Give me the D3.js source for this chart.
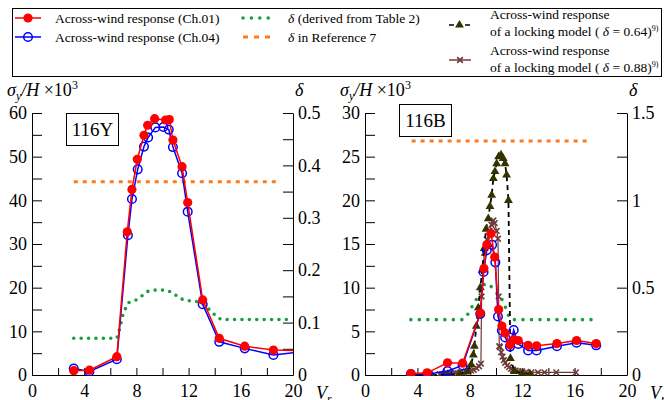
<!DOCTYPE html>
<html>
<head>
<meta charset="utf-8">
<script src="https://cdn.jsdelivr.net/npm/d3@7"></script>
<style>
  body { margin: 0; background: #fff; }
  svg, svg text { font-family: "Liberation Serif", "Times New Roman", Times, "DejaVu Serif", serif; }
</style>
</head>
<body>
<svg id="chart" width="664" height="400"></svg>
<script>
// ---- data: 116Y ----
const vrY01  = [3.2, 4.4, 6.5, 7.3, 7.66, 8.07, 8.58, 8.86, 9.4, 10.24, 10.52, 10.8, 11.5, 11.93, 13.08, 14.35, 16.3, 18.5, 20.6];
const resY01 = [1.0, 1.1, 4.2, 32.8, 42.5, 49.4, 54.9, 57.2, 58.7, 58.4, 58.5, 53.8, 47.7, 39.5, 17.2, 8.4, 6.6, 5.7, 5.6];
const vrY04  = [3.2, 4.4, 6.5, 7.35, 7.66, 8.1, 8.58, 8.9, 9.45, 10.07, 10.48, 10.8, 11.5, 11.93, 13.08, 14.35, 16.3, 18.5, 20.6];
const resY04 = [1.5, 0.8, 3.6, 32.0, 40.3, 47.1, 52.3, 54.4, 56.7, 56.8, 56.2, 52.2, 46.2, 37.4, 16.2, 7.6, 6.1, 4.6, 5.3];
const vrYTable  = [3.2, 6.5, 6.69, 6.8, 6.95, 7.13, 7.38, 7.9, 8.33, 8.79, 9.3, 10.32, 10.83, 11.34, 11.85, 12.49, 13.0, 13.39, 13.77, 14.15, 14.5, 19.8];
const deltaYTable = [0.070, 0.070, 0.086, 0.097, 0.113, 0.125, 0.138, 0.142, 0.149, 0.159, 0.162, 0.162, 0.156, 0.146, 0.142, 0.141, 0.138, 0.129, 0.121, 0.111, 0.106, 0.106];
const vrYRef7 = [3.2, 18.9];
const deltaYRef7 = [0.369, 0.369];

// ---- data: 116B ----
const vrB01  = [3.5, 4.75, 6.3, 7.45, 8.8, 9.08, 9.3, 9.62, 9.9, 10.2, 10.45, 10.7, 11.07, 11.35, 11.7, 12.45, 13.1, 14.65, 16.15, 17.65];
const resB01 = [0.15, 0.25, 1.4, 1.35, 7.1, 12.2, 14.9, 16.2, 13.5, 7.5, 5.6, 4.8, 3.45, 4.05, 3.95, 3.4, 3.35, 3.6, 3.95, 3.6];
const vrB04  = [3.5, 4.75, 6.3, 7.45, 8.8, 9.05, 9.3, 9.7, 9.95, 10.15, 10.45, 10.7, 11.07, 11.35, 11.7, 12.45, 13.1, 14.65, 16.15, 17.65];
const resB04 = [0.1, 0.1, 0.45, 1.1, 7.0, 11.8, 14.3, 14.9, 12.9, 6.7, 5.1, 4.3, 3.25, 5.15, 3.55, 2.8, 2.8, 3.3, 3.7, 3.4];
const vrBTable = [3.5, 7.5, 7.9, 8.15, 8.47, 8.8, 9.16, 9.5, 9.92, 10.25, 10.56, 10.94, 11.15, 17.3];
const deltaBTable = [0.317, 0.317, 0.353, 0.388, 0.429, 0.48, 0.525, 0.515, 0.487, 0.455, 0.42, 0.343, 0.317, 0.317];
const vrBRef7 = [3.56, 17.05];
const deltaBRef7 = [1.34, 1.34];
const vrLock64  = [5.1, 6.3, 7.2, 7.8, 8.1, 8.27, 8.35, 8.5, 8.65, 8.8, 8.95, 9.1, 9.24, 9.41, 9.54, 9.67, 9.8, 9.92, 10.05, 10.2, 10.38, 10.55, 10.69, 10.81, 10.95, 11.1, 11.4, 12.0, 12.6];
const resLock64 = [0, 0.05, 0.1, 0.4, 1.2, 2.3, 3.3, 5.6, 7.7, 10, 12, 14.5, 16.7, 17.9, 19.3, 20.6, 22.5, 23.3, 24.2, 25.0, 25.2, 24.8, 24.2, 22.9, 20.0, 1.9, 0.4, 0.2, 0.1];
const vrLock88  = [5.7, 5.9, 6.1, 6.3, 6.5, 6.7, 6.9, 7.1, 7.3, 7.5, 7.7, 7.9, 8.1, 8.3, 8.5, 8.7, 8.85,
                   8.9, 9.1, 9.3, 9.5, 9.65, 9.8, 9.9, 10.05, 10.15, 10.2, 10.25,
                   10.3, 10.4, 10.5, 10.6, 10.7, 10.85, 11.0, 11.15, 11.3, 11.5, 11.7, 12.0, 12.3, 12.7, 13.2, 13.7, 14.6, 16.1];
const resLock88 = [0.1, 0.1, 0.15, 0.1, 0.2, 0.15, 0.25, 0.2, 0.3, 0.25, 0.4, 0.35, 0.5, 0.6, 0.8, 1.0, 1.3,
                   9, 14, 15.5, 16.5, 17.2, 17.7, 17.4, 16.5, 15.6, 9, 3.3,
                   3.2, 2.6, 2.1, 1.7, 1.4, 1.1, 0.9, 0.7, 0.6, 0.5, 0.45, 0.4, 0.35, 0.3, 0.3, 0.3, 0.3, 0.3];

const RED = '#ff0000', BLUE = '#0000ff', GREEN = '#1b9e3e', ORANGE = '#ff7a1a';
const OLIVE = '#333300', BROWN = '#6e3b3b';
const SERIF = '"Liberation Serif", "Times New Roman", Times, "DejaVu Serif", serif';

const svg = d3.select('#chart').attr('font-family', SERIF);
const zip = (xs, ys) => xs.map((x, i) => [x, ys[i]]);

function drawPanel(p) {
  const x = d3.scaleLinear().domain([0, 20]).range([p.left, p.right]);
  const y = d3.scaleLinear().domain([0, p.yMax]).range([375, 113]);
  const yd = d3.scaleLinear().domain([0, p.dMax]).range([375, 113]);
  const g = svg.append('g');

  const clipId = 'clip' + p.name;
  svg.append('clipPath').attr('id', clipId)
    .append('rect').attr('x', p.left).attr('y', 100).attr('width', p.right - p.left).attr('height', 276);

  // axes, ticks pointing inward
  const fmt = step => v => Math.abs(v / step - Math.round(v / step)) < 1e-6 ? (+v.toFixed(2)).toString() : '';
  const styleAxis = sel => {
    sel.attr('font-family', SERIF).attr('font-size', 18);
    sel.selectAll('path, line').attr('stroke', '#000').attr('stroke-width', 1);
    sel.selectAll('text').attr('fill', '#000');
  };
  g.append('g').attr('transform', 'translate(0,375)')
    .call(d3.axisBottom(x).tickValues(d3.range(0, 20.01, 2)).tickSize(-7).tickSizeOuter(0)
      .tickPadding(9).tickFormat(fmt(4)))
    .call(styleAxis);
  g.append('g').attr('transform', `translate(${p.left},0)`)
    .call(d3.axisLeft(y).tickValues(d3.range(0, p.yMax + 1e-6, p.yMinor)).tickSize(-10).tickSizeOuter(0)
      .tickPadding(5).tickFormat(fmt(p.yMajor)))
    .call(styleAxis);
  g.append('g').attr('transform', `translate(${p.right},0)`)
    .call(d3.axisRight(yd).tickValues(d3.range(0, p.dMax + 1e-6, p.dMinor)).tickSize(-10).tickSizeOuter(0)
      .tickPadding(5).tickFormat(fmt(p.dMajor)))
    .call(styleAxis);

  // axis titles
  const t = g.append('text').attr('x', p.left - 25).attr('y', 96).attr('font-size', 18);
  t.append('tspan').attr('font-style', 'italic').text('σ');
  t.append('tspan').attr('font-style', 'italic').attr('font-size', 12).attr('dy', 4).text('y');
  t.append('tspan').attr('font-style', 'italic').attr('dy', -4).text('/H');
  t.append('tspan').text(' ×10');
  t.append('tspan').attr('font-size', 12).attr('dy', -7).text('3');
  g.append('text').attr('x', p.right + 2).attr('y', 96).attr('font-size', 18)
    .attr('font-style', 'italic').text('δ');
  const v = g.append('text').attr('x', p.right + 23).attr('y', 399).attr('font-size', 18).attr('font-style', 'italic');
  v.append('tspan').text('V');
  v.append('tspan').attr('font-size', 12).attr('dy', 4).text('r');

  // panel label
  g.append('rect').attr('x', p.boxX + 0.5).attr('y', p.boxY + 0.5).attr('width', 52).attr('height', 32)
    .attr('fill', '#fff').attr('stroke', '#000').attr('stroke-width', 1);
  g.append('text').attr('x', p.boxX + 26.5).attr('y', p.boxY + 23).attr('text-anchor', 'middle')
    .attr('font-size', 19).text(p.name);

  const plot = g.append('g').attr('clip-path', `url(#${clipId})`);
  const line = d3.line().x(d => x(d[0])).y(d => y(d[1]));
  const lineD = d3.line().x(d => x(d[0])).y(d => yd(d[1]));

  // delta curves
  plot.append('path').datum(zip(p.vrRef7, p.dRef7)).attr('d', lineD)
    .attr('fill', 'none').attr('stroke', ORANGE).attr('stroke-width', 3).attr('stroke-dasharray', '4,5');
  plot.append('path').datum(zip(p.vrTable, p.dTable)).attr('d', lineD)
    .attr('fill', 'none').attr('stroke', GREEN).attr('stroke-width', 3.6)
    .attr('stroke-linecap', 'round').attr('stroke-dasharray', p.dotGap);

  // locking model series (116B only)
  if (p.lock64) {
    const l88 = zip(vrLock88, resLock88);
    plot.append('path').datum(l88).attr('d', line).attr('fill', 'none').attr('stroke', BROWN).attr('stroke-width', 1.2);
    plot.selectAll('.cross').data(l88).enter().append('path').attr('class', 'cross')
      .attr('transform', d => `translate(${x(d[0])},${y(d[1])}) rotate(45)`)
      .attr('d', 'M-4,0H4M0,-4V4')
      .attr('fill', 'none').attr('stroke', BROWN).attr('stroke-width', 1.6);
    const l64 = zip(vrLock64, resLock64);
    plot.append('path').datum(l64).attr('d', line).attr('fill', 'none').attr('stroke', '#000')
      .attr('stroke-width', 1.8).attr('stroke-dasharray', '5,4');
    plot.selectAll('.tri').data(l64).enter().append('path').attr('class', 'tri')
      .attr('transform', d => `translate(${x(d[0])},${y(d[1])})`)
      .attr('d', d3.symbol(d3.symbolTriangle, 34)()).attr('fill', OLIVE);
  }

  // response series
  const s04 = zip(p.vr04, p.res04);
  plot.append('path').datum(s04).attr('d', line).attr('fill', 'none').attr('stroke', BLUE).attr('stroke-width', 1.5);
  plot.selectAll('.c04').data(s04).enter().append('circle').attr('class', 'c04')
    .attr('cx', d => x(d[0])).attr('cy', d => y(d[1])).attr('r', 4.3)
    .attr('fill', 'none').attr('stroke', BLUE).attr('stroke-width', 1.5);
  const s01 = zip(p.vr01, p.res01);
  plot.append('path').datum(s01).attr('d', line).attr('fill', 'none').attr('stroke', RED).attr('stroke-width', 1.5);
  plot.selectAll('.c01').data(s01).enter().append('circle').attr('class', 'c01')
    .attr('cx', d => x(d[0])).attr('cy', d => y(d[1])).attr('r', 4.6).attr('fill', RED);
}

drawPanel({
  name: '116Y', left: 32, right: 293, yMax: 60, yMajor: 10, yMinor: 5, dMax: 0.5, dMajor: 0.1, dMinor: 0.05,
  boxX: 66, boxY: 113, dotGap: '0,7.4',
  vr01: vrY01, res01: resY01, vr04: vrY04, res04: resY04,
  vrTable: vrYTable, dTable: deltaYTable, vrRef7: vrYRef7, dRef7: deltaYRef7
});
drawPanel({
  name: '116B', left: 365, right: 627, yMax: 30, yMajor: 5, yMinor: 2.5, dMax: 1.5, dMajor: 0.5, dMinor: 0.25,
  boxX: 399, boxY: 104, dotGap: '0,8.5', lock64: true,
  vr01: vrB01, res01: resB01, vr04: vrB04, res04: resB04,
  vrTable: vrBTable, dTable: deltaBTable, vrRef7: vrBRef7, dRef7: deltaBRef7
});

// ---- legend ----
const lg = svg.append('g').attr('font-size', 13.5).attr('font-family', SERIF);
lg.append('rect').attr('x', 12.5).attr('y', 8.5).attr('width', 649).attr('height', 68)
  .attr('fill', '#fff').attr('stroke', '#000').attr('stroke-width', 1);
lg.append('line').attr('x1', 15).attr('x2', 41).attr('y1', 18).attr('y2', 18).attr('stroke', RED).attr('stroke-width', 1.5);
lg.append('circle').attr('cx', 28).attr('cy', 18).attr('r', 4.6).attr('fill', RED);
lg.append('line').attr('x1', 15).attr('x2', 41).attr('y1', 37).attr('y2', 37).attr('stroke', BLUE).attr('stroke-width', 1.5);
lg.append('circle').attr('cx', 28).attr('cy', 37).attr('r', 4.3).attr('fill', 'none').attr('stroke', BLUE).attr('stroke-width', 1.5);
lg.append('text').attr('x', 55).attr('y', 22.5).text('Across-wind response (Ch.01)');
lg.append('text').attr('x', 55).attr('y', 41.5).text('Across-wind response (Ch.04)');

lg.append('line').attr('x1', 243).attr('x2', 269).attr('y1', 18).attr('y2', 18).attr('stroke', GREEN)
  .attr('stroke-width', 3.6).attr('stroke-linecap', 'round').attr('stroke-dasharray', '0,8.4');
lg.append('line').attr('x1', 243).attr('x2', 271).attr('y1', 37).attr('y2', 37).attr('stroke', ORANGE)
  .attr('stroke-width', 3).attr('stroke-dasharray', '5,6');
const d1 = lg.append('text').attr('x', 288).attr('y', 22.5);
d1.append('tspan').attr('font-style', 'italic').text('δ');
d1.append('tspan').text(' (derived from Table 2)');
const d2 = lg.append('text').attr('x', 288).attr('y', 41.5);
d2.append('tspan').attr('font-style', 'italic').text('δ');
d2.append('tspan').text(' in Reference 7');

lg.append('line').attr('x1', 449).attr('x2', 470).attr('y1', 25).attr('y2', 25).attr('stroke', '#000')
  .attr('stroke-width', 1.5).attr('stroke-dasharray', '5,11');
lg.append('path').attr('transform', 'translate(459.5,25)').attr('d', d3.symbol(d3.symbolTriangle, 34)()).attr('fill', OLIVE);
lg.append('line').attr('x1', 449).attr('x2', 471).attr('y1', 60).attr('y2', 60).attr('stroke', BROWN).attr('stroke-width', 1.5);
lg.append('path').attr('transform', 'translate(460,60) rotate(45)').attr('d', 'M-4,0H4M0,-4V4')
  .attr('stroke', BROWN).attr('stroke-width', 1.8);

function lockLabel(y, val) {
  lg.append('text').attr('x', 490).attr('y', y).text('Across-wind response');
  const t = lg.append('text').attr('x', 490).attr('y', y + 17);
  t.append('tspan').text('of a locking model ( ');
  t.append('tspan').attr('font-style', 'italic').text('δ');
  t.append('tspan').text(' = ' + val + ')');
  t.append('tspan').attr('font-size', 8).attr('dy', -5).text('9)');
}
lockLabel(19, '0.64');
lockLabel(55, '0.88');
</script>
</body>
</html>
